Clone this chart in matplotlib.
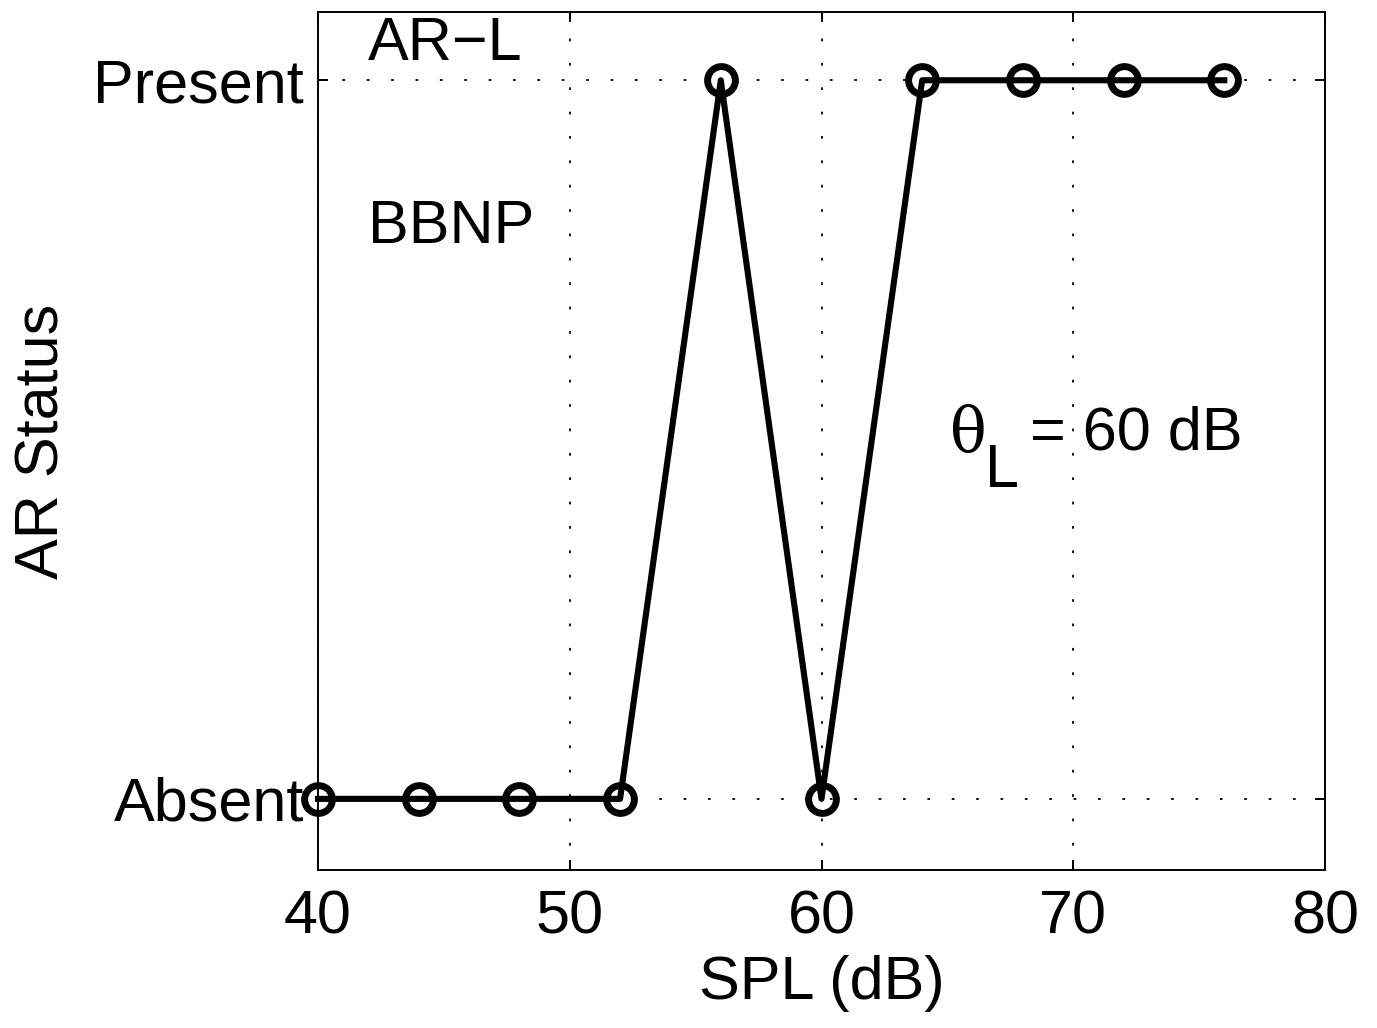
import matplotlib.pyplot as plt

spl = [40, 44, 48, 52, 56, 60, 64, 68, 72, 76]
status = [0, 0, 0, 0, 1, 0, 1, 1, 1, 1]
xticks = [40, 50, 60, 70, 80]
ylabels = ['Absent', 'Present']

plt.rcParams['font.family'] = ['Liberation Sans', 'DejaVu Sans']

fig = plt.figure(figsize=(13.77, 10.28), dpi=100)
ax = fig.add_axes([318 / 1377, 1 - 870 / 1028, 1007 / 1377, 858 / 1028])

ax.plot(spl, status, color='black', linewidth=4.4, marker='o', markersize=20,
        markerfacecolor='none', markeredgewidth=5, clip_on=False, zorder=3)

ax.set_xlim(40, 80)
ax.set_ylim(-0.099, 1.095)
ax.set_xticks(xticks)
ax.set_yticks([0, 1])
ax.set_yticklabels(ylabels)
ax.tick_params(direction='in', length=7, width=1.4, labelsize=44, pad=14,
               top=True, right=True)
ax.tick_params(axis='y', pad=10)
ax.grid(True, linestyle=(0, (1.5, 12)), color='black', linewidth=1.3)
for s in ax.spines.values():
    s.set_linewidth(1.4)

ax.set_xlabel('SPL (dB)', fontsize=44, labelpad=6)
ax.set_ylabel('AR Status', fontsize=44, labelpad=16)

ax.text(42, 1.05, 'AR\u2212L', fontsize=44, va='center', ha='left')
ax.text(42, 0.795, 'BBNP', fontsize=44, va='center', ha='left')
ax.text(65.1, 0.508, '\u03b8', fontsize=44, va='center', ha='left', family='DejaVu Serif')
ax.text(66.5, 0.455, 'L', fontsize=44, va='center', ha='left')
ax.text(68.3, 0.508, '= 60 dB', fontsize=44, va='center', ha='left')

fig.savefig('out.png', dpi=100)
